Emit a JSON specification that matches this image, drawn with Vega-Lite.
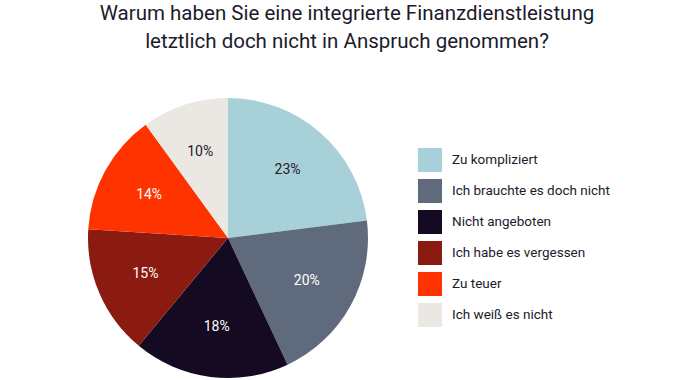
{
  "$schema": "https://vega.github.io/schema/vega-lite/v6.json",
  "autosize": "none",
  "width": 456,
  "height": 280,
  "padding": {"top": 98, "left": 0, "right": 244, "bottom": 2},
  "background": "white",
  "title": {
    "text": ["Warum haben Sie eine integrierte Finanzdienstleistung", "letztlich doch nicht in Anspruch genommen?"],
    "font": "Roboto",
    "fontSize": 20.5,
    "fontWeight": "normal",
    "color": "#1b1b2b",
    "anchor": "middle",
    "dx": 119,
    "offset": 46,
    "lineHeight": 28
  },
  "data": {
    "values": [
      {"kategorie": "Zu kompliziert", "anteil": 23, "order": 1, "label": "23%"},
      {"kategorie": "Ich brauchte es doch nicht", "anteil": 20, "order": 2, "label": "20%"},
      {"kategorie": "Nicht angeboten", "anteil": 18, "order": 3, "label": "18%"},
      {"kategorie": "Ich habe es vergessen", "anteil": 15, "order": 4, "label": "15%"},
      {"kategorie": "Zu teuer", "anteil": 14, "order": 5, "label": "14%"},
      {"kategorie": "Ich weiß es nicht", "anteil": 10, "order": 6, "label": "10%"}
    ]
  },
  "encoding": {
    "theta": {"field": "anteil", "type": "quantitative", "stack": true},
    "order": {"field": "order", "type": "quantitative"}
  },
  "layer": [
    {
      "mark": {"type": "arc", "outerRadius": 140},
      "encoding": {
        "color": {
          "field": "kategorie",
          "type": "nominal",
          "sort": ["Zu kompliziert", "Ich brauchte es doch nicht", "Nicht angeboten", "Ich habe es vergessen", "Zu teuer", "Ich weiß es nicht"],
          "scale": {
            "domain": ["Zu kompliziert", "Ich brauchte es doch nicht", "Nicht angeboten", "Ich habe es vergessen", "Zu teuer", "Ich weiß es nicht"],
            "range": ["#a8d0d8", "#5f6b7c", "#140a22", "#8b1a10", "#ff3300", "#ebe8e3"]
          },
          "legend": {
            "title": null,
            "orient": "none",
            "legendX": 418,
            "legendY": 50,
            "padding": 0,
            "symbolType": "square",
            "symbolSize": 576,
            "symbolStrokeWidth": 0,
            "rowPadding": 7,
            "labelOffset": 10,
            "labelFont": "Roboto",
            "labelFontSize": 13.5,
            "labelColor": "#1b1b2b",
            "labelLimit": 300
          }
        }
      }
    },
    {
      "mark": {"type": "text", "radius": 90, "font": "Roboto", "fontSize": 14},
      "encoding": {
        "text": {"field": "label", "type": "nominal"},
        "color": {
          "condition": {"test": "datum.anteil == 23 || datum.anteil == 10", "value": "#1b1b2b"},
          "value": "#ffffff"
        }
      }
    }
  ]
}
